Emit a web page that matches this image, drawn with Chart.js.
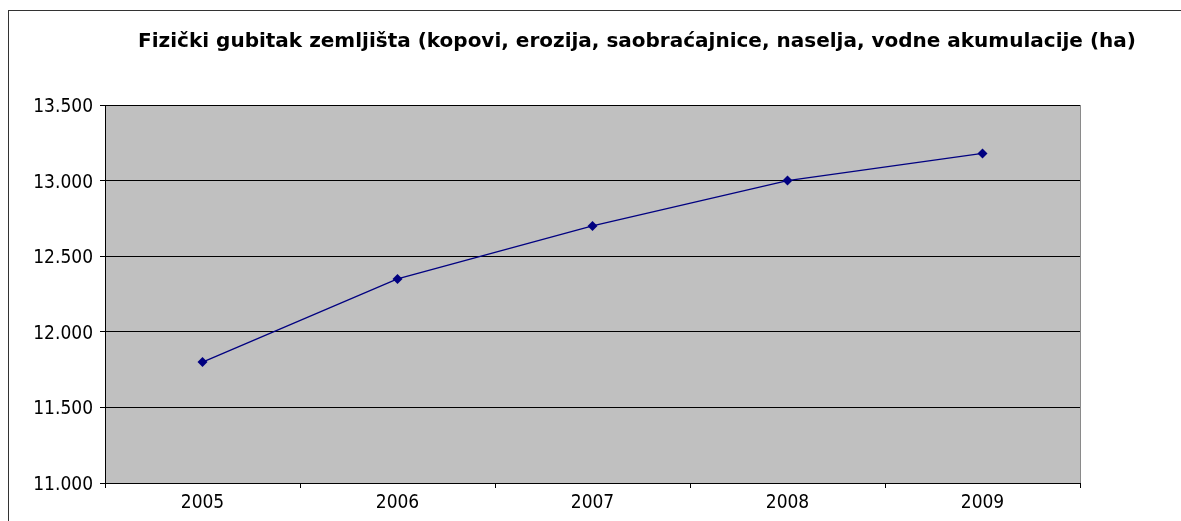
<!DOCTYPE html>
<html>
<head>
<meta charset="utf-8">
<script src="https://cdn.jsdelivr.net/npm/chart.js@4.4.1/dist/chart.umd.min.js"></script>
<style>
    html, body { margin: 0; padding: 0; background: #fff; }
    #wrap { position: relative; width: 1181px; height: 521px; overflow: hidden; }
    #frame {
        position: absolute; left: 8px; top: 10px; width: 1400px; height: 700px;
        border-left: 1px solid #333; border-top: 1px solid #333;
    }
    #chart { position: absolute; left: 0; top: 0; }
</style>
</head>
<body>
<div id="wrap">
    <div id="frame"></div>
    <canvas id="chart" width="1181" height="521"></canvas>
</div>
<script>
const chartTitle = 'Fizički gubitak zemljišta (kopovi, erozija, saobraćajnice, naselja, vodne akumulacije (ha)';
const years = ['2005', '2006', '2007', '2008', '2009'];
const landLoss = [11800, 12350, 12700, 13000, 13180];
const yMin = 11000;
const yMax = 13500;
const yStep = 500;

const tickFont = { family: '"DejaVu Sans Condensed", "DejaVu Sans", sans-serif', size: 19 };

// grey plot background + title drawn at its spot
const plotStyle = {
    id: 'plotStyle',
    beforeDraw(chart) {
        const { ctx, chartArea } = chart;
        ctx.save();
        ctx.fillStyle = '#c0c0c0';
        ctx.fillRect(chartArea.left, chartArea.top, chartArea.right - chartArea.left, chartArea.bottom - chartArea.top);
        ctx.strokeStyle = '#8a8a8a';
        ctx.lineWidth = 1;
        ctx.beginPath();
        ctx.moveTo(chartArea.right + 0.5, chartArea.top);
        ctx.lineTo(chartArea.right + 0.5, chartArea.bottom);
        ctx.stroke();
        ctx.restore();
    },
    afterDraw(chart) {
        const { ctx } = chart;
        ctx.save();
        ctx.font = 'bold 20px "DejaVu Sans", sans-serif';
        ctx.fillStyle = '#000';
        ctx.textAlign = 'center';
        ctx.textBaseline = 'alphabetic';
        ctx.fillText(chartTitle, 637, 47);
        ctx.restore();
    }
};

new Chart(document.getElementById('chart').getContext('2d'), {
    type: 'line',
    data: {
        labels: years,
        datasets: [{
            data: landLoss,
            borderColor: '#000080',
            backgroundColor: '#000080',
            borderWidth: 1.3,
            pointStyle: 'rectRot',
            pointRadius: 5,
            pointBorderWidth: 0,
            tension: 0,
            fill: false
        }]
    },
    options: {
        responsive: false,
        animation: false,
        layout: { padding: { top: 105, right: 101, left: 0, bottom: 0 } },
        plugins: {
            legend: { display: false },
            tooltip: { enabled: false },
            title: { display: false }
        },
        scales: {
            x: {
                offset: true,
                afterFit: (scale) => { scale.height = 38; },
                grid: {
                    offset: true,
                    drawOnChartArea: false,
                    drawTicks: true,
                    tickLength: 5,
                    color: '#000'
                },
                border: { color: '#000', width: 1 },
                ticks: { color: '#000', font: tickFont, padding: 4, maxRotation: 0 }
            },
            y: {
                min: yMin,
                max: yMax,
                afterFit: (scale) => { scale.width = 105; },
                grid: {
                    color: '#000',
                    tickLength: 5,
                    drawTicks: true
                },
                border: { color: '#000', width: 1 },
                ticks: {
                    stepSize: yStep,
                    color: '#000',
                    font: tickFont,
                    padding: 7,
                    labelOffset: 2,
                    callback: (v) => v.toLocaleString('de-DE', { minimumFractionDigits: 0 }).replace(',', '.')
                }
            }
        }
    },
    plugins: [plotStyle]
});
</script>
</body>
</html>
